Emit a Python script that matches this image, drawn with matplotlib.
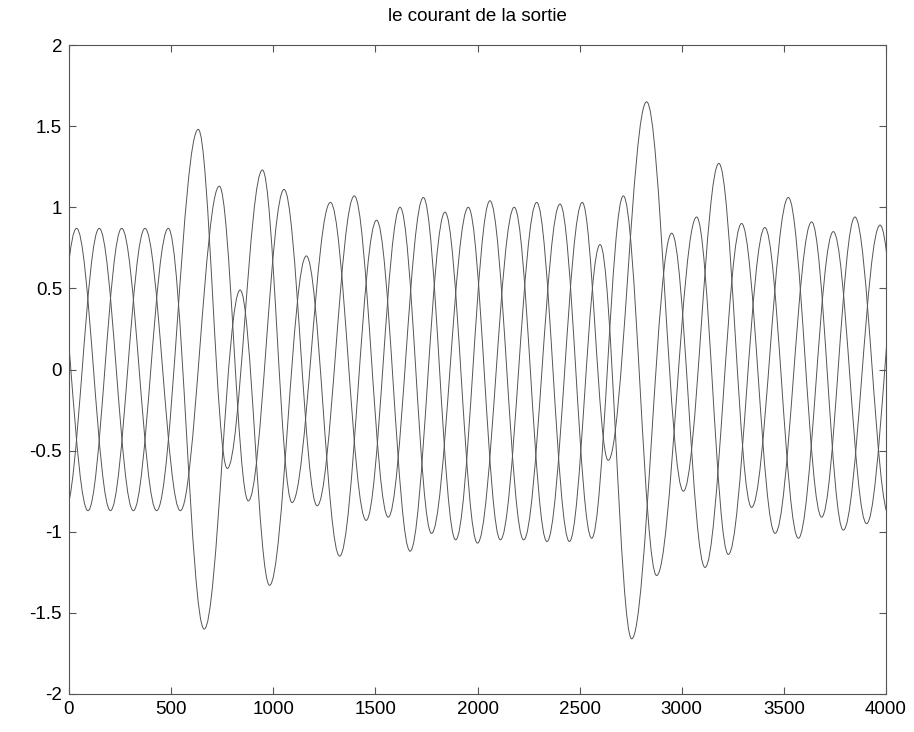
import numpy as np
import matplotlib
matplotlib.use('Agg')
import matplotlib.pyplot as plt
from matplotlib.path import Path
from matplotlib.patches import PathPatch
from matplotlib.ticker import FormatStrFormatter

# peaks / troughs of the three output currents (sample index, value)
ia_t = [-131, 37, 203, 372, 545, 736, 878, 1053, 1215, 1397, 1563, 1735, 1893,
        2061, 2226, 2404, 2559, 2714, 2877, 3073, 3228, 3407, 3571, 3742, 3905, 4080]
ia_v = [-0.87, 0.87, -0.87, 0.87, -0.87, 1.13, -0.81, 1.11, -0.84, 1.07, -0.91, 1.06, -1.05,
        1.04, -1.05, 1.02, -1.04, 1.07, -1.27, 0.94, -1.14, 0.875, -1.04, 0.85, -0.95, 0.90]

ib_t = [-19, 148, 315, 486, 662, 838, 982, 1162, 1325, 1506, 1670, 1841, 2000,
        2180, 2340, 2513, 2640, 2828, 3008, 3182, 3342, 3522, 3685, 3848, 4015]
ib_v = [-0.87, 0.87, -0.87, 0.87, -1.60, 0.49, -1.33, 0.70, -1.15, 0.92, -1.12, 0.97, -1.07,
        1.00, -1.06, 1.03, -0.56, 1.65, -0.75, 1.27, -0.85, 1.06, -0.91, 0.94, -0.90]

ic_t = [-75, 93, 258, 429, 633, 775, 947, 1092, 1280, 1455, 1621, 1775, 1955,
        2112, 2290, 2450, 2600, 2755, 2951, 3114, 3293, 3457, 3636, 3791, 3971, 4130]
ic_v = [0.87, -0.87, 0.87, -0.87, 1.48, -0.61, 1.23, -0.82, 1.03, -0.93, 1.00, -1.01, 1.00,
        -1.05, 1.03, -1.06, 0.77, -1.66, 0.84, -1.22, 0.90, -1.01, 0.91, -0.99, 0.89, -0.90]

LineCol = '#555555'


def smooth_path(t, v, k=0.3634):
    # cubic bezier between successive extrema, flat tangent at each extremum
    verts = [(t[0], v[0])]
    codes = [Path.MOVETO]
    for i in range(len(t) - 1):
        dx = t[i + 1] - t[i]
        verts += [(t[i] + k * dx, v[i]), (t[i + 1] - k * dx, v[i + 1]), (t[i + 1], v[i + 1])]
        codes += [Path.CURVE4] * 3
    return Path(verts, codes)


plt.rcParams['font.family'] = ['Liberation Sans', 'DejaVu Sans']
plt.rcParams['axes.unicode_minus'] = False

fig = plt.figure(figsize=(9.14, 7.32), dpi=100)
ax = fig.add_axes([69 / 914, 1 - 694 / 732, (886 - 69) / 914, (694 - 45) / 732])

for t, v in [(ia_t, ia_v), (ib_t, ib_v), (ic_t, ic_v)]:
    ax.add_patch(PathPatch(smooth_path(t, v), facecolor='none', edgecolor=LineCol, linewidth=0.7))

ax.set_xlim(0, 4000)
ax.set_ylim(-2, 2)
ax.set_xticks(np.arange(0, 4001, 500))
ax.set_yticks(np.arange(-2, 2.01, 0.5))
ax.yaxis.set_major_formatter(FormatStrFormatter('%g'))
ax.tick_params(direction='in', top=True, right=True, labelsize=13.5, length=5, color='#555555', pad=5)
for s in ax.spines.values():
    s.set_color('#555555')
    s.set_linewidth(0.8)

ax.set_title('le courant de la sortie', fontsize=13.5, pad=17)

plt.savefig('out.png', dpi=100)
